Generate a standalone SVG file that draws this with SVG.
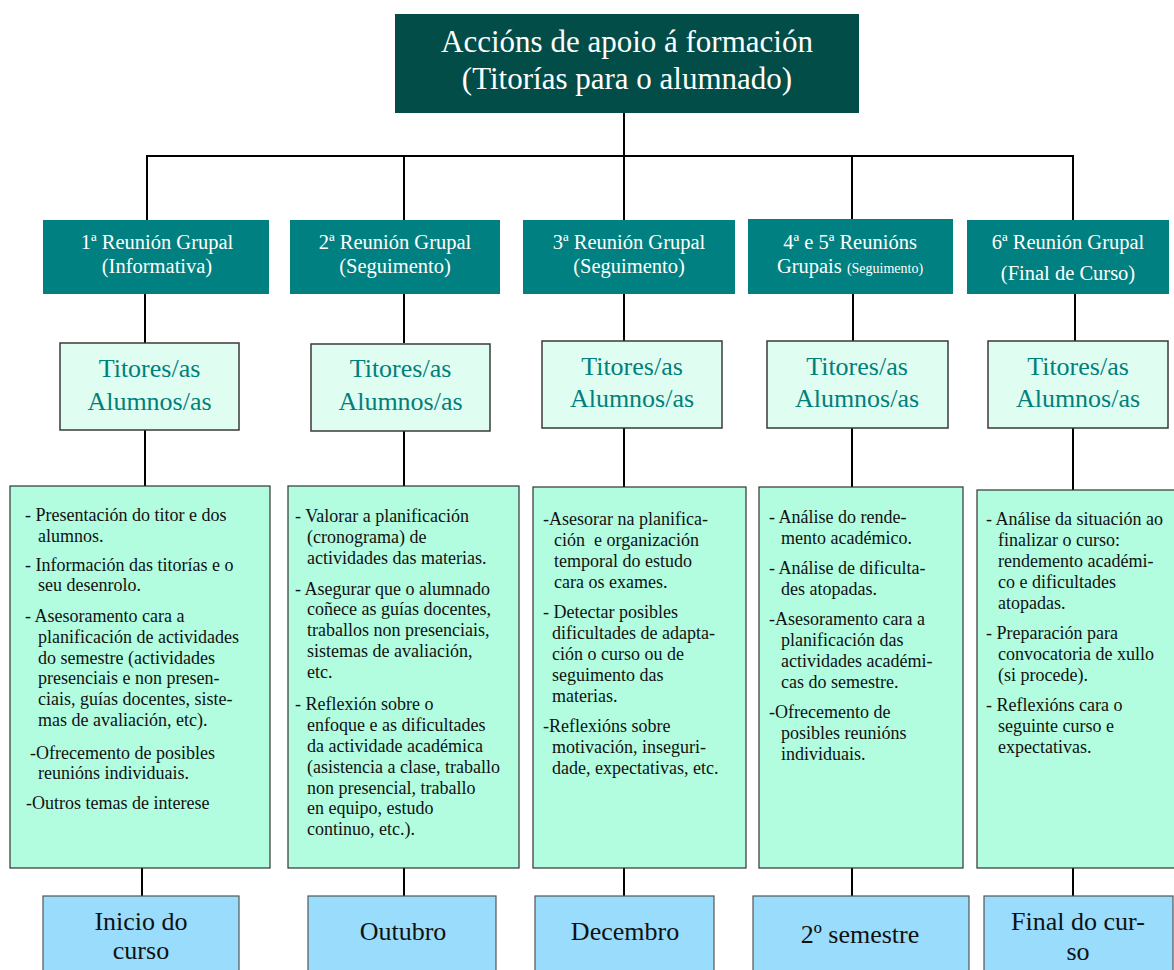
<svg xmlns="http://www.w3.org/2000/svg" width="1174" height="970" viewBox="0 0 1174 970">
<style>
  text { font-family: "Liberation Serif", "DejaVu Serif", serif; }
  .top { fill: #024d48; }
  .lvl2 { fill: #008080; }
  .lvl3 { fill: #e0fdf2; stroke: #3a3a3a; stroke-width: 1.5; }
  .lvl4 { fill: #b2fde0; stroke: #333; stroke-width: 1.2; }
  .lvl5 { fill: #99dcfc; stroke: #555; stroke-width: 1.2; }
  .tTop { fill: #fff; font-size: 31px; text-anchor: middle; }
  .t2 { fill: #fff; font-size: 20.5px; text-anchor: middle; }
  .t3 { fill: #00807a; font-size: 26px; text-anchor: middle; }
  .t4 { fill: #111; font-size: 18px; }
  .t5 { fill: #111; font-size: 26px; text-anchor: middle; }
  .conn line { stroke: #000; stroke-width: 2; }
</style>

<g class="conn" id="connectors">
  <line x1="624" y1="113" x2="624" y2="156"/>
  <line x1="146" y1="156" x2="1074" y2="156"/>
  <line x1="147" y1="156" x2="147" y2="220"/>
  <line x1="404" y1="156" x2="404" y2="220"/>
  <line x1="624" y1="156" x2="624" y2="220"/>
  <line x1="852" y1="156" x2="852" y2="220"/>
  <line x1="1073" y1="156" x2="1073" y2="220"/>
  <line x1="145" y1="293" x2="145" y2="343"/>
  <line x1="404" y1="293" x2="404" y2="343"/>
  <line x1="624" y1="293" x2="624" y2="341"/>
  <line x1="853" y1="293" x2="853" y2="341"/>
  <line x1="1075" y1="293" x2="1075" y2="341"/>
  <line x1="145" y1="430" x2="145" y2="486"/>
  <line x1="404" y1="430" x2="404" y2="486"/>
  <line x1="624" y1="428" x2="624" y2="487"/>
  <line x1="852" y1="428" x2="852" y2="487"/>
  <line x1="1073" y1="428" x2="1073" y2="490"/>
  <line x1="142" y1="868" x2="142" y2="896"/>
  <line x1="404" y1="868" x2="404" y2="896"/>
  <line x1="624" y1="868" x2="624" y2="896"/>
  <line x1="852" y1="868" x2="852" y2="896"/>
  <line x1="1073" y1="868" x2="1073" y2="896"/>
</g>

<g id="root">
  <rect class="top" x="395" y="14" width="464" height="99"/>
  <text class="tTop" x="627" y="52">Accións de apoio á formación</text>
  <text class="tTop" x="627" y="89">(Titorías para o alumnado)</text>
</g>

<g id="r1">
  <rect class="lvl2" x="43" y="220" width="226" height="74"/>
  <text class="t2" x="157" y="249">1ª Reunión Grupal</text>
  <text class="t2" x="157" y="273">(Informativa)</text>
</g>
<g id="r2">
  <rect class="lvl2" x="290" y="220" width="210" height="74"/>
  <text class="t2" x="395" y="249">2ª Reunión Grupal</text>
  <text class="t2" x="395" y="273">(Seguimento)</text>
</g>
<g id="r3">
  <rect class="lvl2" x="523" y="220" width="212" height="74"/>
  <text class="t2" x="629" y="249">3ª Reunión Grupal</text>
  <text class="t2" x="629" y="273">(Seguimento)</text>
</g>
<g id="r45">
  <rect class="lvl2" x="748" y="219" width="205" height="75"/>
  <text class="t2" x="850" y="249">4ª e 5ª Reunións</text>
  <text class="t2" x="850" y="273">Grupais <tspan style="font-size:14px">(Seguimento)</tspan></text>
</g>
<g id="r6">
  <rect class="lvl2" x="967" y="220" width="202" height="74"/>
  <text class="t2" x="1068" y="249">6ª Reunión Grupal</text>
  <text class="t2" x="1068" y="280">(Final de Curso)</text>
</g>

<g id="p1">
  <rect class="lvl3" x="60" y="343" width="179" height="87"/>
  <text class="t3" x="149.5" y="377">Titores/as</text>
  <text class="t3" x="149.5" y="410">Alumnos/as</text>
</g>
<g id="p2">
  <rect class="lvl3" x="311" y="344" width="179" height="87"/>
  <text class="t3" x="400.5" y="377">Titores/as</text>
  <text class="t3" x="400.5" y="410">Alumnos/as</text>
</g>
<g id="p3">
  <rect class="lvl3" x="542" y="341" width="180" height="87"/>
  <text class="t3" x="632" y="375">Titores/as</text>
  <text class="t3" x="632" y="407">Alumnos/as</text>
</g>
<g id="p4">
  <rect class="lvl3" x="767" y="341" width="181" height="87"/>
  <text class="t3" x="857" y="375">Titores/as</text>
  <text class="t3" x="857" y="407">Alumnos/as</text>
</g>
<g id="p5">
  <rect class="lvl3" x="988" y="341" width="180" height="87"/>
  <text class="t3" x="1078" y="375">Titores/as</text>
  <text class="t3" x="1078" y="407">Alumnos/as</text>
</g>

<g id="c1">
  <rect class="lvl4" x="10" y="486" width="260" height="382"/>
  <text class="t4">
    <tspan x="25" y="521">- Presentación do titor e dos</tspan>
    <tspan x="38" y="542">alumnos.</tspan>
    <tspan x="25" y="571">- Información das titorías e o</tspan>
    <tspan x="38" y="591">seu desenrolo.</tspan>
    <tspan x="25" y="622">- Asesoramento cara a</tspan>
    <tspan x="38" y="643">planificación de actividades</tspan>
    <tspan x="38" y="664">do semestre (actividades</tspan>
    <tspan x="38" y="684">presenciais e non presen-</tspan>
    <tspan x="38" y="705">ciais, guías docentes, siste-</tspan>
    <tspan x="38" y="726">mas de avaliación, etc).</tspan>
    <tspan x="30" y="759">-Ofrecemento de posibles</tspan>
    <tspan x="38" y="779">reunións individuais.</tspan>
    <tspan x="26" y="809">-Outros temas de interese</tspan>
  </text>
</g>
<g id="c2">
  <rect class="lvl4" x="288" y="486" width="231" height="382"/>
  <text class="t4">
    <tspan x="295" y="522">- Valorar a planificación</tspan>
    <tspan x="307" y="543">(cronograma) de</tspan>
    <tspan x="307" y="564">actividades das materias.</tspan>
    <tspan x="295" y="595">- Asegurar que o alumnado</tspan>
    <tspan x="307" y="615">coñece as guías docentes,</tspan>
    <tspan x="307" y="636">traballos non presenciais,</tspan>
    <tspan x="307" y="657">sistemas de avaliación,</tspan>
    <tspan x="307" y="678">etc.</tspan>
    <tspan x="295" y="710">- Reflexión sobre o</tspan>
    <tspan x="307" y="731">enfoque e as dificultades</tspan>
    <tspan x="307" y="752">da actividade académica</tspan>
    <tspan x="307" y="773">(asistencia a clase, traballo</tspan>
    <tspan x="307" y="794">non presencial, traballo</tspan>
    <tspan x="307" y="814">en equipo, estudo</tspan>
    <tspan x="307" y="835">continuo, etc.).</tspan>
  </text>
</g>
<g id="c3">
  <rect class="lvl4" x="533" y="487" width="213" height="381"/>
  <text class="t4" xml:space="preserve">
    <tspan x="543" y="525">-Asesorar na planifica-</tspan>
    <tspan x="554" y="546">ción  e organización</tspan>
    <tspan x="554" y="567">temporal do estudo</tspan>
    <tspan x="554" y="588">cara os exames.</tspan>
    <tspan x="543" y="618">- Detectar posibles</tspan>
    <tspan x="552" y="639">dificultades de adapta-</tspan>
    <tspan x="552" y="660">ción o curso ou de</tspan>
    <tspan x="552" y="681">seguimento das</tspan>
    <tspan x="552" y="702">materias.</tspan>
    <tspan x="543" y="732">-Reflexións sobre</tspan>
    <tspan x="552" y="753">motivación, inseguri-</tspan>
    <tspan x="552" y="774">dade, expectativas, etc.</tspan>
  </text>
</g>
<g id="c4">
  <rect class="lvl4" x="759" y="487" width="204" height="381"/>
  <text class="t4">
    <tspan x="769" y="523">- Análise do rende-</tspan>
    <tspan x="781" y="544">mento académico.</tspan>
    <tspan x="769" y="574">- Análise de dificulta-</tspan>
    <tspan x="781" y="595">des atopadas.</tspan>
    <tspan x="769" y="625">-Asesoramento cara a</tspan>
    <tspan x="781" y="646">planificación das</tspan>
    <tspan x="781" y="667">actividades académi-</tspan>
    <tspan x="781" y="688">cas do semestre.</tspan>
    <tspan x="769" y="718">-Ofrecemento de</tspan>
    <tspan x="781" y="739">posibles reunións</tspan>
    <tspan x="781" y="760">individuais.</tspan>
  </text>
</g>
<g id="c5">
  <rect class="lvl4" x="977" y="490" width="210" height="378"/>
  <text class="t4">
    <tspan x="986" y="525">- Análise da situación ao</tspan>
    <tspan x="998" y="546">finalizar o curso:</tspan>
    <tspan x="998" y="567">rendemento académi-</tspan>
    <tspan x="998" y="588">co e dificultades</tspan>
    <tspan x="998" y="609">atopadas.</tspan>
    <tspan x="986" y="639">- Preparación para</tspan>
    <tspan x="998" y="660">convocatoria de xullo</tspan>
    <tspan x="998" y="681">(si procede).</tspan>
    <tspan x="986" y="711">- Reflexións cara o</tspan>
    <tspan x="998" y="732">seguinte curso e</tspan>
    <tspan x="998" y="753">expectativas.</tspan>
  </text>
</g>

<g id="d1">
  <rect class="lvl5" x="43" y="896" width="196" height="90"/>
  <text class="t5" x="141" y="930">Inicio do</text>
  <text class="t5" x="141" y="959">curso</text>
</g>
<g id="d2">
  <rect class="lvl5" x="308" y="896" width="188" height="90"/>
  <text class="t5" x="403" y="940">Outubro</text>
</g>
<g id="d3">
  <rect class="lvl5" x="535" y="896" width="179" height="90"/>
  <text class="t5" x="625" y="940">Decembro</text>
</g>
<g id="d4">
  <rect class="lvl5" x="753" y="896" width="216" height="90"/>
  <text class="t5" x="860" y="943">2º semestre</text>
</g>
<g id="d5">
  <rect class="lvl5" x="984" y="896" width="189" height="90"/>
  <text class="t5" x="1078" y="930">Final do cur-</text>
  <text class="t5" x="1078" y="960">so</text>
</g>
</svg>
